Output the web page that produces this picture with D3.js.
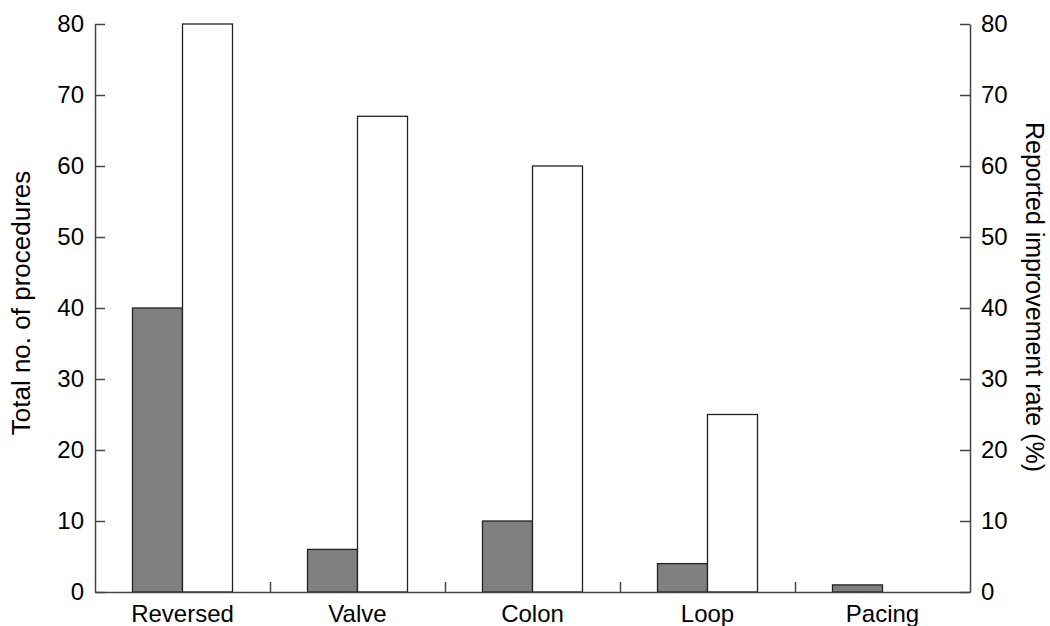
<!DOCTYPE html>
<html>
<head>
<meta charset="utf-8">
<script src="https://cdn.jsdelivr.net/npm/d3@7"></script>
<style>
  body { margin: 0; background: #fff; }
  text { font-family: "Liberation Sans", Arial, sans-serif; fill: #000; }
</style>
</head>
<body>
<script>
const categories = ['Reversed', 'Valve', 'Colon', 'Loop', 'Pacing']
const procedures = [40, 6, 10, 4, 1]
const improvement = [80, 67, 60, 25, 0]
const yTicks = [0, 10, 20, 30, 40, 50, 60, 70, 80]

const W = 1050, H = 626
const margins = { top: 24, right: 80, bottom: 34, left: 95 }
const width = W - margins.left - margins.right
const height = H - margins.top - margins.bottom
const fontSize = '24px'

const x = d3.scaleBand()
  .domain(categories)
  .range([0, width])

const y = d3.scaleLinear()
  .domain([0, 80])
  .range([height, 0])

const y2 = d3.scaleLinear()
  .domain([0, 80])
  .range([height, 0])

const barW = 50

const svg = d3.select('body').append('svg')
    .attr('width', W)
    .attr('height', H)
  .append('g')
    .attr('transform', 'translate(' + [margins.left, margins.top] + ')')

// bars
const groups = svg.selectAll('.grp')
    .data(categories)
  .enter().append('g')
    .attr('transform', (d) => 'translate(' + (x(d) + x.bandwidth() / 2) + ',0)')

groups.append('rect')
  .attr('x', -barW)
  .attr('width', barW)
  .attr('y', (d, i) => y(procedures[i]))
  .attr('height', (d, i) => height - y(procedures[i]))
  .attr('fill', '#808080')
  .attr('stroke', '#222')
  .attr('stroke-width', 1.3)

groups.filter((d, i) => improvement[i] > 0).append('rect')
  .attr('x', 0)
  .attr('width', barW)
  .attr('y', (d) => y2(improvement[categories.indexOf(d)]))
  .attr('height', (d) => height - y2(improvement[categories.indexOf(d)]))
  .attr('fill', '#fff')
  .attr('stroke', '#222')
  .attr('stroke-width', 1.3)

// axes
svg.append('g')
  .call(d3.axisLeft(y).tickValues(yTicks).tickSizeInner(-10).tickSizeOuter(0).tickPadding(11))

svg.append('g')
  .attr('transform', 'translate(' + width + ',0)')
  .call(d3.axisRight(y2).tickValues(yTicks).tickSizeInner(-10).tickSizeOuter(0).tickPadding(11))

const bounds = x.domain().slice(1).map((d) => x(d))
svg.append('g')
  .attr('transform', 'translate(0,' + height + ')')
  .call(d3.axisBottom(d3.scaleLinear().domain([0, width]).range([0, width]))
    .tickValues(bounds).tickSizeInner(-10).tickSizeOuter(0).tickFormat(''))

svg.selectAll('.domain').attr('stroke', '#444').attr('stroke-width', 1.5)
svg.selectAll('.tick line').attr('stroke', '#444').attr('stroke-width', 1.5)
svg.selectAll('.tick text').style('font-size', fontSize).attr('fill', '#000')

svg.append('g')
  .selectAll('text')
  .data(categories)
  .enter().append('text')
    .attr('x', (d) => x(d) + x.bandwidth() / 2)
    .attr('y', height + 30)
    .attr('text-anchor', 'middle')
    .style('font-size', fontSize)
    .text((d) => d)

svg.append('text')
  .attr('transform', 'translate(' + [-65, 279] + ') rotate(-90)')
  .attr('text-anchor', 'middle')
  .style('font-size', '26px')
  .text('Total no. of procedures')

svg.append('text')
  .attr('transform', 'translate(' + [width + 56, 273] + ') rotate(90)')
  .attr('text-anchor', 'middle')
  .style('font-size', '25px')
  .text('Reported improvement rate (%)')
</script>
</body>
</html>
